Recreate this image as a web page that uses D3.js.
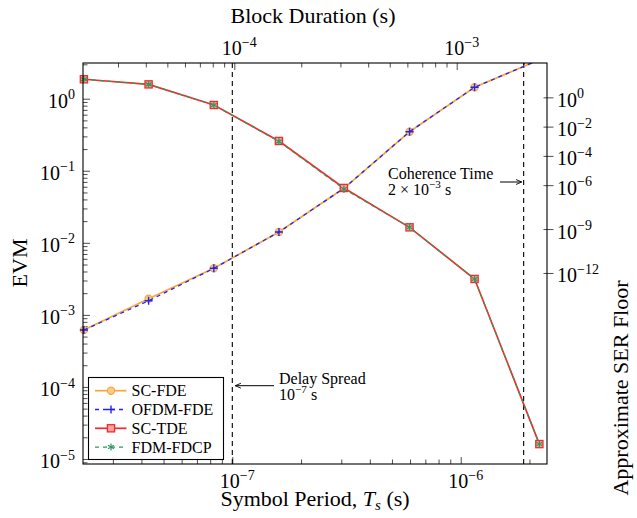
<!DOCTYPE html>
<html>
<head>
<meta charset="utf-8">
<script src="https://cdn.jsdelivr.net/npm/d3@7"></script>
<style>
  body { margin: 0; background: #fff; }
  svg, svg text { font-family: "Liberation Serif", "DejaVu Serif", serif; }
  .axis path { display: none; }
  .axis line { stroke: #000; stroke-width: 0.7; }
</style>
</head>
<body>
<div id="chart"></div>
<script>
// symbol period (s) for every point
const symbolPeriod = [2.24e-8, 4.3e-8, 8.3e-8, 1.6e-7, 3.08e-7, 5.97e-7, 1.15e-6, 2.21e-6];

// EVM per scheme
const scFde   = [6.17e-4, 1.68e-3, 4.43e-3, 0.0141, 0.0571, 0.348, 1.44, 3.47];
const ofdmFde = [6.17e-4, 1.57e-3, 4.43e-3, 0.0141, 0.0571, 0.348, 1.44, 3.47];
const scTde   = [1.86, 1.58, 0.818, 0.259, 0.0577, 0.0164, 0.00315, 1.61e-5];
const fdmFdcp = [1.86, 1.58, 0.818, 0.255, 0.0560, 0.0164, 0.00315, 1.61e-5];

// tick labels (exponents of 10)
const bottomTicks = [-7, -6];
const topTicks = [-4, -3];
const leftTicks = [0, -1, -2, -3, -4, -5];
const rightTicks = [0, -2, -4, -6, -9, -12];

// reference lines
const delaySpread = 1e-7;      // on symbol period axis
const coherenceTime = 2e-3;    // on block duration axis

const series = [
    { name: "SC-FDE",    values: scFde,   color: "#f8a73c", dash: null,  width: 1.7, marker: "circle" },
    { name: "OFDM-FDE",  values: ofdmFde, color: "#2323f0", dash: "4,4", width: 1.3, marker: "plus" },
    { name: "SC-TDE",    values: scTde,   color: "#f52a2a", dash: null,  width: 1.7, marker: "square" },
    { name: "FDM-FDCP",  values: fdmFdcp, color: "#2e9a5c", dash: "4,4", width: 1.2, marker: "star" }
];

const FONT = "Liberation Serif, DejaVu Serif, serif";

const W = 637, H = 518;
const margin = { top: 63, right: 90, bottom: 54, left: 83 };
const width = W - margin.left - margin.right;   // 464
const height = H - margin.top - margin.bottom;  // 401

const svg = d3.select("#chart").append("svg")
    .attr("width", W)
    .attr("height", H)
    .attr("font-family", FONT);

const g = svg.append("g")
    .attr("transform", `translate(${margin.left},${margin.top})`);

// Scales
const x = d3.scaleLog().domain([Math.pow(10, -7.6537), Math.pow(10, -5.6222)]).range([0, width]);
const xTop = d3.scaleLog().domain([Math.pow(10, -4.6803), Math.pow(10, -2.594)]).range([0, width]);
const y = d3.scaleLog().domain([Math.pow(10, -5.0694), Math.pow(10, 0.4954)]).range([height, 0]);
const yRight = d3.scaleLog().domain([Math.pow(10, -25.02), Math.pow(10, 2.381)]).range([height, 0]);

// minor ticks inside a domain
function minorTicks(scale) {
    const [a, b] = scale.domain();
    const out = [];
    for (let e = Math.floor(Math.log10(a)); e <= Math.ceil(Math.log10(b)); e++) {
        for (let m = 2; m <= 9; m++) {
            const v = m * Math.pow(10, e);
            if (v >= a && v <= b) out.push(v);
        }
    }
    return out;
}

// Axes: ticks pointing inward
g.append("g").attr("class", "axis").attr("transform", `translate(0,${height})`)
    .call(d3.axisBottom(x).tickValues(bottomTicks.map(e => Math.pow(10, e))).tickSizeInner(-7).tickFormat(""));
g.append("g").attr("class", "axis").attr("transform", `translate(0,${height})`)
    .call(d3.axisBottom(x).tickValues(minorTicks(x)).tickSizeInner(-4.5).tickFormat(""));

g.append("g").attr("class", "axis")
    .call(d3.axisTop(xTop).tickValues(topTicks.map(e => Math.pow(10, e))).tickSizeInner(-7).tickFormat(""));
g.append("g").attr("class", "axis")
    .call(d3.axisTop(xTop).tickValues(minorTicks(xTop)).tickSizeInner(-4.5).tickFormat(""));

g.append("g").attr("class", "axis")
    .call(d3.axisLeft(y).tickValues(leftTicks.map(e => Math.pow(10, e))).tickSizeInner(-7).tickFormat(""));
g.append("g").attr("class", "axis")
    .call(d3.axisLeft(y).tickValues(minorTicks(y)).tickSizeInner(-4.5).tickFormat(""));

// right axis ticks cross the frame
const rightAxis = g.append("g").attr("class", "axis").attr("transform", `translate(${width},0)`);
rightAxis.selectAll("line").data(rightTicks).join("line")
    .attr("x1", -3.5).attr("x2", 6.5)
    .attr("y1", d => yRight(Math.pow(10, d)))
    .attr("y2", d => yRight(Math.pow(10, d)));

// power-of-ten labels
function powLabel(sel, base, exp, fs) {
    sel.attr("font-family", FONT);
    sel.append("tspan").attr("font-size", fs).text(base);
    sel.append("tspan").attr("font-size", fs * 0.7).attr("dy", -fs * 0.42)
        .text(exp < 0 ? "\u2212" + (-exp) : exp);
}

bottomTicks.forEach(e => {
    const t = g.append("text").attr("x", x(Math.pow(10, e)) + 5).attr("y", height + 24)
        .attr("text-anchor", "middle");
    powLabel(t, "10", e, 20);
});
topTicks.forEach(e => {
    const t = g.append("text").attr("x", xTop(Math.pow(10, e)) + 5).attr("y", -8)
        .attr("text-anchor", "middle");
    powLabel(t, "10", e, 20);
});
leftTicks.forEach(e => {
    const t = g.append("text").attr("x", -8).attr("y", y(Math.pow(10, e)) + 9)
        .attr("text-anchor", "end");
    powLabel(t, "10", e, 20);
});
rightTicks.forEach(e => {
    const t = g.append("text").attr("x", width + 10).attr("y", yRight(Math.pow(10, e)) + 9)
        .attr("text-anchor", "start");
    powLabel(t, "10", e, 20);
});

// Axis titles
svg.append("text").attr("x", 313).attr("y", 23).attr("text-anchor", "middle")
    .attr("font-size", 22).text("Block Duration (s)");

const xt = svg.append("text").attr("x", 315).attr("y", 506).attr("text-anchor", "middle")
    .attr("font-size", 22);
xt.append("tspan").text("Symbol Period, ");
xt.append("tspan").attr("font-style", "italic").text("T");
xt.append("tspan").attr("font-style", "italic").attr("font-size", 15).attr("dy", 4).text("s");
xt.append("tspan").attr("dy", -4).text(" (s)");

svg.append("text").attr("transform", "translate(27,263) rotate(-90)")
    .attr("text-anchor", "middle").attr("font-size", 22).text("EVM");

svg.append("text").attr("transform", "translate(628,388) rotate(-90)")
    .attr("text-anchor", "middle").attr("font-size", 22).text("Approximate SER Floor");

// Clip for the lines
svg.append("defs").append("clipPath").attr("id", "plotClip")
    .append("rect").attr("width", width).attr("height", height);

svg.select("defs").append("marker")
    .attr("id", "arrow").attr("viewBox", "0 0 10 10")
    .attr("refX", 9).attr("refY", 5)
    .attr("markerWidth", 7).attr("markerHeight", 7)
    .attr("orient", "auto-start-reverse")
    .append("path").attr("d", "M1,1.5 L9,5 L1,8.5").attr("fill", "none")
    .attr("stroke", "#000").attr("stroke-width", 1.3);

// Reference lines
g.append("line")
    .attr("x1", x(delaySpread)).attr("x2", x(delaySpread))
    .attr("y1", 0).attr("y2", height)
    .attr("stroke", "#000").attr("stroke-width", 1.1).attr("stroke-dasharray", "5,4");
g.append("line")
    .attr("x1", xTop(coherenceTime)).attr("x2", xTop(coherenceTime))
    .attr("y1", 0).attr("y2", height)
    .attr("stroke", "#000").attr("stroke-width", 1.1).attr("stroke-dasharray", "5,4");

// Annotations
g.append("line").attr("x1", 274 - margin.left).attr("x2", x(delaySpread) + 3)
    .attr("y1", 385.7 - margin.top).attr("y2", 385.7 - margin.top)
    .attr("stroke", "#000").attr("stroke-width", 1).attr("marker-end", "url(#arrow)");
g.append("text").attr("x", 279 - margin.left).attr("y", 384 - margin.top)
    .attr("font-size", 16).text("Delay Spread");
const ds = g.append("text").attr("x", 279 - margin.left).attr("y", 399.5 - margin.top);
powLabel(ds, "10", -7, 16);
ds.append("tspan").attr("font-size", 16).attr("dy", 16 * 0.42).text(" s");

g.append("line").attr("x1", 500 - margin.left).attr("x2", xTop(coherenceTime) - 2)
    .attr("y1", 182 - margin.top).attr("y2", 182 - margin.top)
    .attr("stroke", "#000").attr("stroke-width", 1).attr("marker-end", "url(#arrow)");
g.append("text").attr("x", 388 - margin.left).attr("y", 179 - margin.top)
    .attr("font-size", 16).text("Coherence Time");
const ct = g.append("text").attr("x", 388 - margin.left).attr("y", 194.5 - margin.top);
ct.append("tspan").attr("font-size", 16).text("2 \u00d7 ");
powLabel(ct, "10", -3, 16);
ct.append("tspan").attr("font-size", 16).attr("dy", 16 * 0.42).text(" s");

// Lines
const line = d3.line()
    .x(d => x(d[0]))
    .y(d => y(d[1]));

function drawMarker(sel, type, color) {
    if (type === "circle") {
        sel.append("circle").attr("r", 3.6)
            .attr("fill", "#fbc98a").attr("stroke", color).attr("stroke-width", 1.2);
    } else if (type === "square") {
        sel.append("rect").attr("x", -3.6).attr("y", -3.6).attr("width", 7.2).attr("height", 7.2)
            .attr("fill", "#f9a0a0").attr("stroke", color).attr("stroke-width", 1.3);
    } else if (type === "plus") {
        sel.append("path").attr("d", "M-4,0H4M0,-4V4")
            .attr("stroke", color).attr("stroke-width", 1.4);
    } else if (type === "star") {
        sel.append("path").attr("d", "M0,-3.5V3.5M-3,-1.75L3,1.75M-3,1.75L3,-1.75")
            .attr("stroke", color).attr("stroke-width", 1.2);
    }
}

const plotArea = g.append("g");
series.forEach(s => {
    const pts = symbolPeriod.map((t, i) => [t, s.values[i]]);
    plotArea.append("path")
        .datum(pts)
        .attr("clip-path", "url(#plotClip)")
        .attr("fill", "none")
        .attr("stroke", s.color)
        .attr("stroke-width", s.width)
        .attr("stroke-dasharray", s.dash)
        .attr("d", line);

    const [lo, hi] = y.domain();
    pts.filter(p => p[1] >= lo && p[1] <= hi).forEach(p => {
        const m = plotArea.append("g").attr("transform", `translate(${x(p[0])},${y(p[1])})`);
        drawMarker(m, s.marker, s.color);
    });
});

// Frame
g.append("rect").attr("width", width).attr("height", height)
    .attr("fill", "none").attr("stroke", "#000").attr("stroke-width", 1.1);

// Legend
const legend = svg.append("g").attr("transform", "translate(88.5,377.5)");
legend.append("rect").attr("width", 135).attr("height", 82)
    .attr("fill", "#fff").attr("stroke", "#000").attr("stroke-width", 1.1);

series.forEach((s, i) => {
    const row = legend.append("g").attr("transform", `translate(0,${13.2 + i * 18.8})`);
    row.append("line").attr("x1", 6.5).attr("x2", 38)
        .attr("stroke", s.color).attr("stroke-width", s.width)
        .attr("stroke-dasharray", s.dash);
    const m = row.append("g").attr("transform", "translate(22.5,0)");
    drawMarker(m, s.marker, s.color);
    row.append("text").attr("x", 43).attr("y", 5.5).attr("font-size", 16).text(s.name);
});
</script>
</body>
</html>
